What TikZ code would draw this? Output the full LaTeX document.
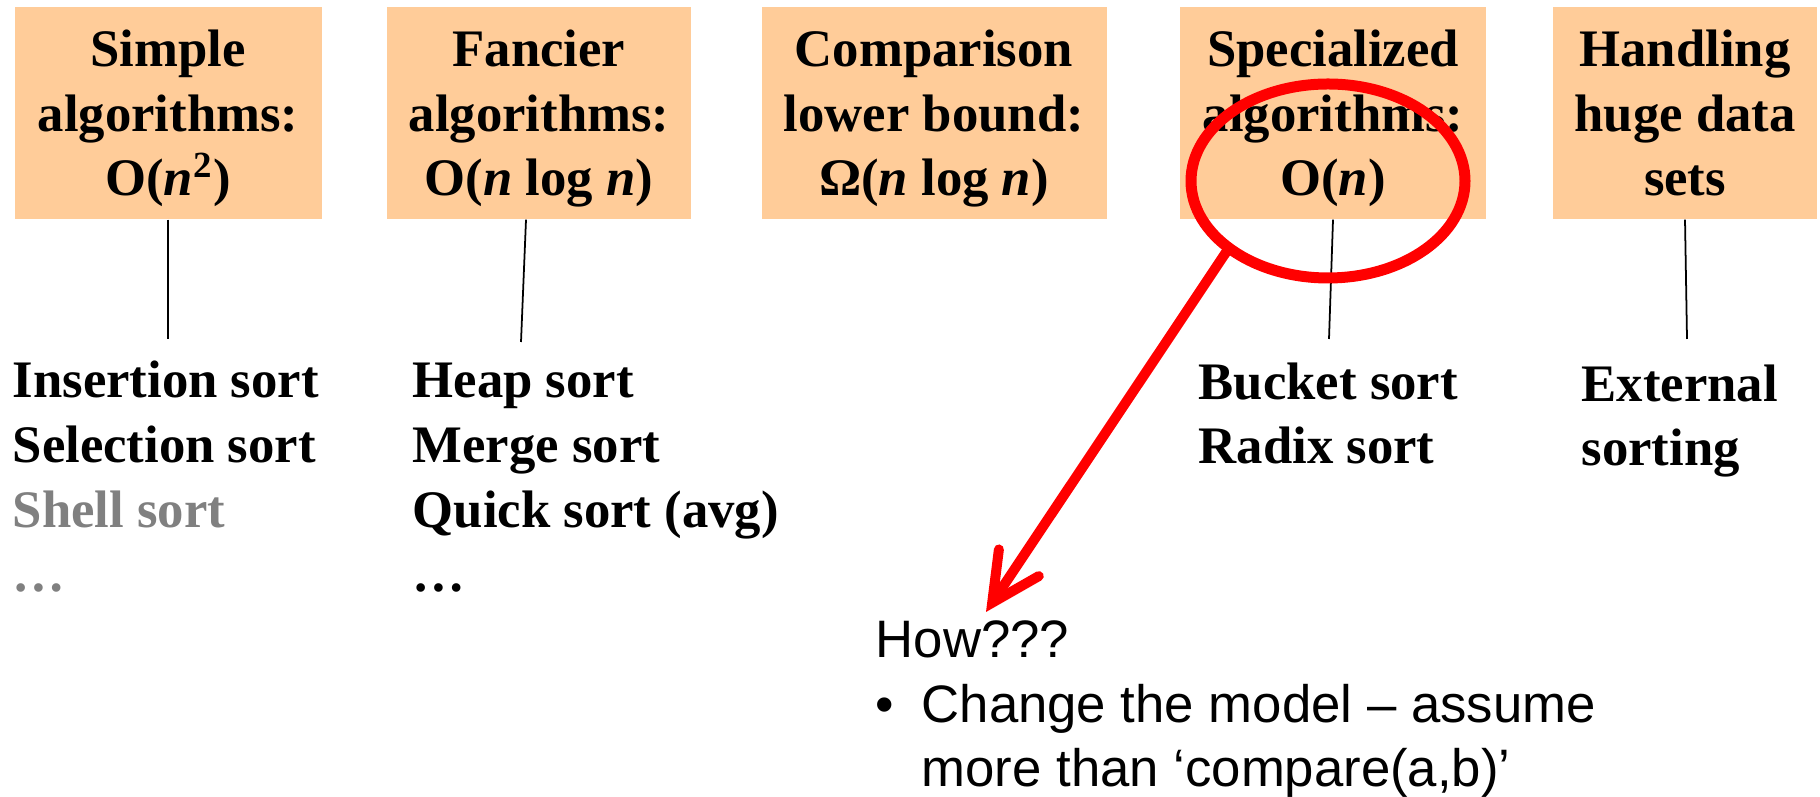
\documentclass[tikz,border=0pt]{standalone}
\usepackage{fontspec}
\setmainfont{Liberation Serif}
\setsansfont{Liberation Sans}
\usetikzlibrary{shapes.geometric, arrows.meta, calc}
\definecolor{boxorange}{HTML}{FFCC99}
\definecolor{shellgray}{HTML}{808080}
\newcommand{\itn}{\textit{n}}

\begin{document}
\begin{tikzpicture}[x=0.1mm, y=-0.1mm,
    catbox/.style={rectangle, fill=boxorange, minimum height=2.12cm, inner sep=0pt, text depth=0pt, align=center, font=\fontsize{15}{18.4}\selectfont\bfseries},
    sortlist/.style={anchor=base west, inner sep=0pt, align=left, font=\fontsize{15}{18.4}\selectfont\bfseries},
    note/.style={anchor=base west, inner sep=0pt, align=left, font=\fontsize{15}{18.4}\selectfont\sffamily},
    link/.style={line width=0.5pt},
    ring/.style={ellipse, draw=red, line width=0.11cm, inner sep=0pt},
    pointer/.style={red, line width=0.1cm, line cap=round, -{Straight Barb[length=4.8mm, width=4.8mm, line cap=round]}}]
    \useasboundingbox (0,0) rectangle (1820,797);

    % Category boxes
    \node[catbox, minimum width=3.07cm] (simple) at (168,113) {Simple\\algorithms:\\O(\itn\textsuperscript{2})};
    \node[catbox, minimum width=3.04cm] (fancy) at (539,113) {Fancier\\algorithms:\\O(\itn{} log \itn)};
    \node[catbox, minimum width=3.45cm] (lower) at (934,113) {Comparison\\lower bound:\\Ω(\itn{} log \itn)};
    \node[catbox, minimum width=3.06cm] (special) at (1333,113) {Specialized\\algorithms:\\O(\itn)};
    \node[catbox, minimum width=2.64cm] (huge) at (1685,113) {Handling\\huge data\\sets};

    % Sort lists (anchored at last baseline)
    \node[sortlist] (simplelist) at (12,592) {Insertion sort\\Selection sort\\{\color{shellgray}Shell sort}\\{\color{shellgray}…}};
    \node[sortlist] (fancylist) at (412,592) {Heap sort\\Merge sort\\Quick sort (avg)\\…};
    \node[sortlist] (speciallist) at (1198,464) {Bucket sort\\Radix sort};
    \node[sortlist] (hugelist) at (1581,466) {External\\sorting};

    % Line ends
    \coordinate (simpleend) at (168,339);
    \coordinate (fancyend) at (521,342);
    \coordinate (specialend) at (1329,339);
    \coordinate (hugeend) at (1687,339);

    % Links
    \draw[link] (simple.south) -- (simpleend);
    \draw[link] ($(fancy.south)+(-13,0)$) -- (fancyend);
    \draw[link] (special.south) -- (specialend);
    \draw[link] (huge.south) -- (hugeend);

    % Highlight
    \node[ring, minimum width=2.74cm, minimum height=1.94cm] (oval) at (1328,181) {};
    \node[note] (how) at (875,787) {How???\\\makebox[4.6mm][l]{•}Change the model – assume\\\hspace*{4.6mm}more than ‘compare(a,b)’};
    \coordinate (howtip) at (986,612);
    \draw[pointer] (oval.215) -- (howtip);
\end{tikzpicture}
\end{document}
